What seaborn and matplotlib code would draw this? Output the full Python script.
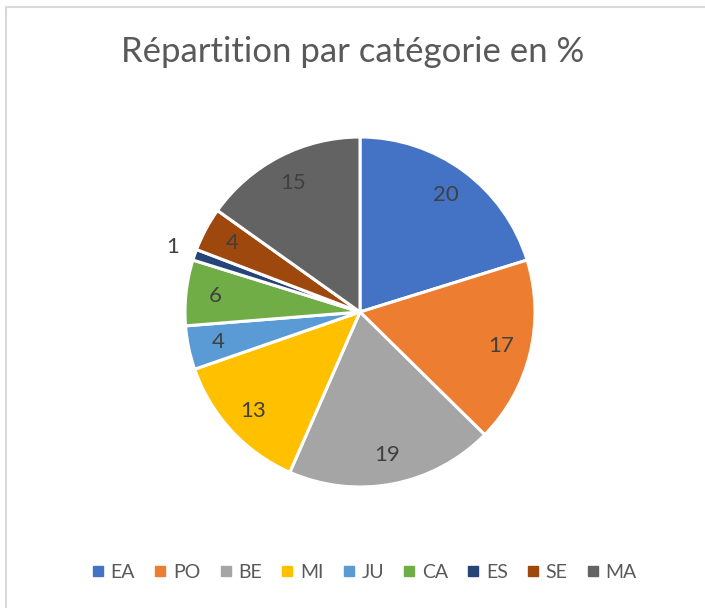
import numpy as np
import matplotlib
matplotlib.use("Agg")
import matplotlib.pyplot as plt
from matplotlib.lines import Line2D
import seaborn as sns

categories = ["EA", "PO", "BE", "MI", "JU", "CA", "ES", "SE", "MA"]
values = [20, 17, 19, 13, 4, 6, 1, 4, 15]
colors = ["#4472C4", "#ED7D31", "#A5A5A5", "#FFC000", "#5B9BD5",
          "#70AD47", "#264478", "#9E480E", "#636363"]
title = "Répartition par catégorie en %"

sns.set_theme(style="white")
plt.rcParams["font.family"] = ["Lato", "DejaVu Sans"]
palette = sns.color_palette(colors)

W, H = 705, 608
fig = plt.figure(figsize=(W / 100, H / 100), dpi=100)

# chart frame: only left and top edges are visible in the crop
fig.lines.append(Line2D([6 / W, 6 / W, 1.0], [0.0, 1 - 7 / H, 1 - 7 / H],
                        transform=fig.transFigure, color="#d9d9d9", linewidth=1.5))

cx, cy, r = 360, H - 312, 175
m = 1.03
ax = fig.add_axes([(cx - r * m) / W, (cy - r * m) / H, 2 * r * m / W, 2 * r * m / H])

wedges, texts = ax.pie(values, colors=palette, startangle=90, counterclock=False,
                       wedgeprops=dict(edgecolor="white", linewidth=2.2))
ax.set_xlim(-m, m)
ax.set_ylim(-m, m)
ax.set_aspect("equal")

for w, v in zip(wedges, values):
    ang = np.deg2rad((w.theta1 + w.theta2) / 2)
    d = 1.13 if v < 2 else 0.83
    ax.text(d * np.cos(ang), d * np.sin(ang), str(v), ha="center", va="center",
            fontsize=16, color="#404040")

fig.text(0.5, 1 - 52 / H, title, ha="center", va="center", fontsize=25, color="#595959")

handles = [Line2D([], [], marker="s", linestyle="", markersize=7, color=c) for c in palette]
fig.legend(handles, categories, loc="center", bbox_to_anchor=(363 / W, 1 - 572 / H), ncol=9,
           frameon=False, fontsize=14, labelcolor="#595959", handletextpad=0.2,
           columnspacing=0.85, handlelength=0.9)

fig.savefig("out.png", dpi=100)
